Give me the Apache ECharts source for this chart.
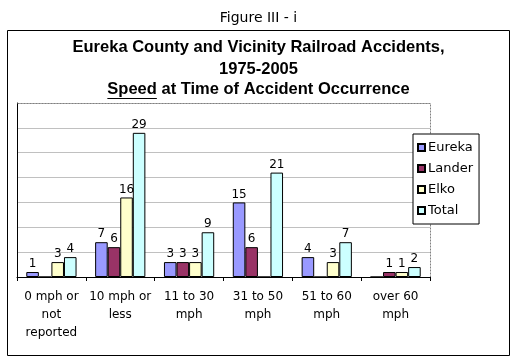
<!DOCTYPE html>
<html>
<head>
<meta charset="utf-8">
<script src="https://cdn.jsdelivr.net/npm/echarts@6/dist/echarts.min.js"></script>
<style>html,body{margin:0;padding:0;background:#fff}#c{width:517px;height:359px}</style>
</head>
<body>
<div id="c"></div>
<script>
var categories = ['0 mph or\nnot\nreported', '10 mph or\nless', '11 to 30\nmph', '31 to 50\nmph', '51 to 60\nmph', 'over 60\nmph'];
var eureka = [1, 7, 3, 15, 4, 0];
var lander = [0, 6, 3, 6, 0, 1];
var elko   = [3, 16, 3, 0, 3, 1];
var total  = [4, 29, 9, 21, 7, 2];
var seriesNames = ['Eureka', 'Lander', 'Elko', 'Total'];
var seriesColors = ['#9999FF', '#993366', '#FFFFCC', '#CCFFFF'];
var seriesData = [eureka, lander, elko, total];
var figureLabel = 'Figure III - i';
var titleLines = ['Eureka County and Vicinity Railroad Accidents,', '1975-2005', 'Speed at Time of Accident Occurrence'];
var underlinedWord = 'Speed';

var chart = echarts.init(document.getElementById('c'), null, {renderer: 'canvas'});
var labelFont = 'DejaVu Sans, Verdana, sans-serif';
var titleFont = 'Liberation Sans, Arial, sans-serif';
var titleSize = 16.5;
var W = 517;

var series = seriesNames.map(function (name, i) {
  return {
    name: name,
    type: 'bar',
    data: seriesData[i],
    barGap: '0%',
    barCategoryGap: '27%',
    itemStyle: {color: seriesColors[i], borderColor: '#000', borderWidth: 1},
    label: {
      show: true, position: 'top', distance: 2,
      fontFamily: labelFont, fontSize: 12, color: '#000',
      formatter: function (p) { return p.value === 0 ? '' : String(p.value); }
    },
    emphasis: {disabled: true},
    animation: false
  };
});

var lineTops = [39, 60.5, 81];
var titles = [{text: figureLabel, left: 'center', top: 6,
  textStyle: {fontFamily: labelFont, fontSize: 14, fontWeight: 'normal', color: '#000'}}];
titleLines.forEach(function (t, i) {
  titles.push({text: t, left: 'center', top: lineTops[i], padding: 0,
    textStyle: {fontFamily: titleFont, fontSize: titleSize, fontWeight: 'bold', color: '#000'}});
});

// measure underline extent for the underlined word in the third title line
var mctx = document.createElement('canvas').getContext('2d');
mctx.font = 'bold ' + titleSize + 'px ' + titleFont;
var line3W = mctx.measureText(titleLines[2]).width;
var wordW = mctx.measureText(underlinedWord).width;
var ulX1 = W / 2 - line3W / 2;
var ulX2 = ulX1 + wordW;
var ulY = lineTops[2] + titleSize + 0.5;

chart.setOption({
  animation: false,
  title: titles,
  legend: {
    orient: 'vertical', left: 413, top: 134,
    backgroundColor: '#fff', borderColor: '#000', borderWidth: 1,
    padding: [7, 6, 7, 4], itemGap: 8, itemWidth: 7, itemHeight: 7,
    icon: 'rect', selectedMode: false,
    textStyle: {fontFamily: labelFont, fontSize: 13, color: '#000', padding: [0, 0, 0, -2]},
    data: seriesNames
  },
  grid: {left: 17, right: 87, top: 103, bottom: 82, containLabel: false},
  xAxis: {
    type: 'category', data: categories,
    axisLine: {lineStyle: {color: '#000', width: 1}},
    axisTick: {show: true, length: 4, lineStyle: {color: '#000'}},
    axisLabel: {interval: 0, margin: 11, fontFamily: labelFont, fontSize: 12, color: '#000', lineHeight: 18}
  },
  yAxis: {
    type: 'value', min: 0, max: 35, interval: 5,
    axisLine: {show: true, lineStyle: {color: '#000', width: 1}},
    axisTick: {show: false}, axisLabel: {show: false},
    splitLine: {lineStyle: {color: '#C0C0C0', width: 1}}
  },
  graphic: [
    {type: 'rect', shape: {x: 7.5, y: 30.5, width: 502, height: 325}, style: {fill: 'none', stroke: '#000', lineWidth: 1}, z: 0},
    {type: 'polyline', shape: {points: [[17.5, 103.5], [430.5, 103.5], [430.5, 277]]}, style: {fill: 'none', stroke: '#808080', lineWidth: 1, lineDash: [2, 1]}, z: 1},
    {type: 'line', shape: {x1: ulX1, y1: Math.round(ulY) + 0.5, x2: ulX2, y2: Math.round(ulY) + 0.5}, style: {stroke: '#000', lineWidth: 1.2}, z: 5}
  ],
  series: series
});
</script>
</body>
</html>
